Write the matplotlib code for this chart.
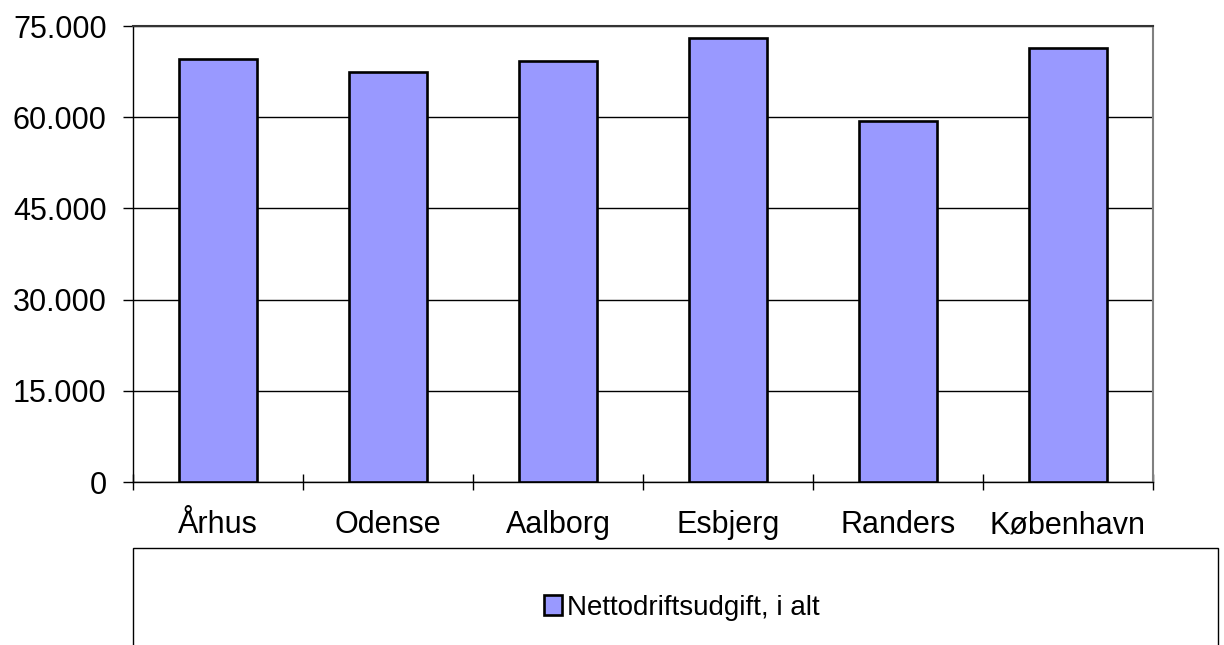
import matplotlib.pyplot as plt
from matplotlib.patches import Rectangle
from matplotlib.ticker import FuncFormatter, MultipleLocator

# Kommuner og nettodriftsudgift
byer = ['Århus', 'Odense', 'Aalborg', 'Esbjerg', 'Randers', 'København']
udgift = [69500, 67500, 69200, 73100, 59400, 71300]
serie_navn = 'Nettodriftsudgift, i alt'

plt.rcParams['font.family'] = ['Liberation Sans', 'DejaVu Sans']

fig = plt.figure(figsize=(12.24, 6.45), dpi=100)
ax = fig.add_axes([133/1224, 1 - 482/645, 1020/1224, 456/645])

x = range(len(byer))
ax.bar(x, udgift, width=0.46, color='#9999FF', edgecolor='black', linewidth=1.9,
       zorder=3, label=serie_navn)

ax.set_xlim(-0.5, len(byer) - 0.5)
ax.set_ylim(0, 75000)
ax.yaxis.set_major_locator(MultipleLocator(15000))
ax.yaxis.set_major_formatter(FuncFormatter(lambda v, p: f'{int(v):,}'.replace(',', '.')))
ax.grid(axis='y', color='black', linewidth=1.0, zorder=0)

# kategori-etiketter midt i felterne, tick-streger på grænserne
ax.set_xticks(list(x))
ax.set_xticklabels(byer, fontsize=22)
for lbl in ax.get_xticklabels():
    lbl.set_verticalalignment('baseline')
ax.tick_params(axis='x', which='major', length=0, pad=37)
ax.set_xticks([i - 0.5 for i in range(len(byer) + 1)], minor=True)
ax.tick_params(axis='x', which='minor', direction='inout', length=12, width=1.0)
ax.tick_params(axis='y', direction='out', length=7, width=1.0, labelsize=22, pad=12)

for s in ax.spines.values():
    s.set_linewidth(1.0)
    s.set_color('black')
ax.spines['top'].set_color('#333333')
ax.spines['top'].set_linewidth(1.5)
ax.spines['right'].set_color('#808080')
ax.spines['right'].set_linewidth(1.5)

# forklaringsboks under diagrammet
fig.patches.append(Rectangle((133/1224, -0.05), (1218 - 133)/1224, 0.05 + (645 - 548)/645,
                             transform=fig.transFigure, fill=False,
                             edgecolor='black', linewidth=1.0))
fig.legend(loc='center', bbox_to_anchor=(682/1224, 1 - 608/645), frameon=False,
           fontsize=20, handlelength=0.65, handleheight=0.75, handletextpad=0.2)

fig.savefig('out.png', dpi=100)
